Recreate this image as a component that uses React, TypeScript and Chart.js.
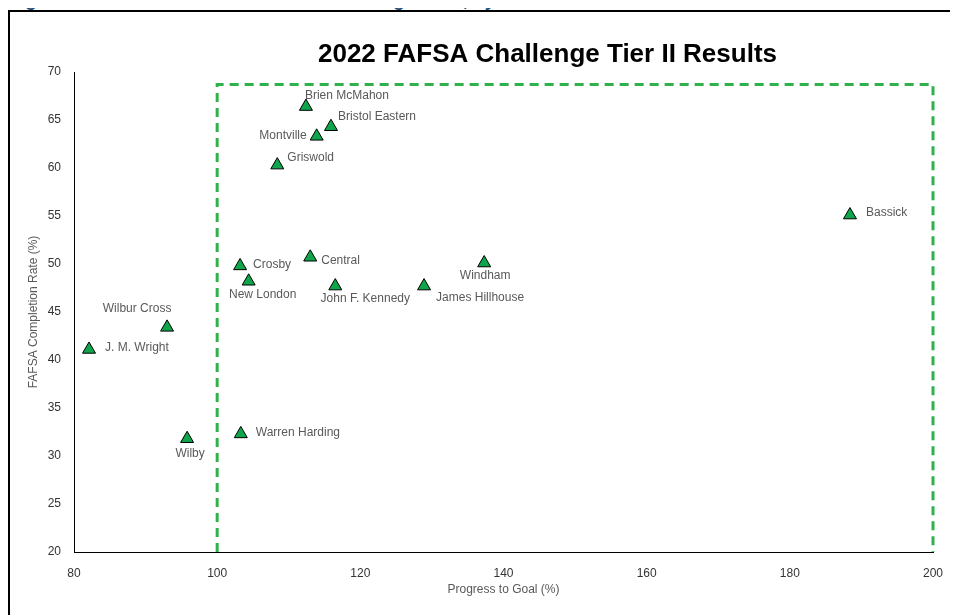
import React, { useEffect, useRef } from "react";
import { Chart, registerables } from "chart.js";

Chart.register(...registerables);

// ---- Data ----
const schools = [
  "Brien McMahon",
  "Bristol Eastern",
  "Montville",
  "Griswold",
  "Crosby",
  "New London",
  "Central",
  "John F. Kennedy",
  "James Hillhouse",
  "Windham",
  "Bassick",
  "Wilbur Cross",
  "J. M. Wright",
  "Wilby",
  "Warren Harding",
];
const progressToGoal = [112.4, 115.9, 113.9, 108.4, 103.2, 104.4, 113.0, 116.5, 128.9, 137.3, 188.4, 93.0, 82.1, 95.8, 103.3];
const completionRate = [66.4, 64.3, 63.3, 60.3, 49.8, 48.2, 50.7, 47.7, 47.7, 50.1, 55.1, 43.4, 41.1, 31.8, 32.3];

// Tier II target box (Progress >= 100)
const boxX = [100, 100, 200, 200];
const boxY = [20, 68.7, 68.7, 20];

const xMin = 80, xMax = 200, xStep = 20;
const yMin = 20, yMax = 70, yStep = 5;

const chartTitle = "2022 FAFSA Challenge Tier II Results";
const xTitle = "Progress to Goal (%)";
const yTitle = "FAFSA Completion Rate (%)";
const headerText = "Figure 4: Tier II Results Relative to Challenge Goal, by School";

// label placement: [dx, dy, align]
const labelPlacement: [number, number, CanvasTextAlign][] = [
  [-1, -9, "left"],
  [7, -8, "left"],
  [-10, 1, "right"],
  [10, -5, "left"],
  [13, 1, "left"],
  [14, 15, "center"],
  [11, 5, "left"],
  [30, 15, "center"],
  [12, 14, "left"],
  [1, 15, "center"],
  [16, 0, "left"],
  [-30, -17, "center"],
  [16, 0, "left"],
  [3, 17, "center"],
  [15, 1, "left"],
];

const FONT = "'Liberation Sans', Arial, Helvetica, sans-serif";

const pointLabelsPlugin = {
  id: "pointLabels",
  afterDatasetsDraw(chart: any) {
    const meta = chart.getDatasetMeta(1);
    const ctx = chart.ctx;
    ctx.save();
    ctx.font = `12px ${FONT}`;
    ctx.fillStyle = "#595959";
    ctx.textBaseline = "middle";
    meta.data.forEach((pt: any, i: number) => {
      const [dx, dy, align] = labelPlacement[i];
      ctx.textAlign = align;
      ctx.fillText(schools[i], pt.x + dx, pt.y + dy - 2);
    });
    ctx.restore();
  },
};

const titlePlugin = {
  id: "customTitle",
  afterDraw(chart: any) {
    const ctx = chart.ctx;
    const ca = chart.chartArea;
    ctx.save();
    ctx.font = `bold 26px ${FONT}`;
    ctx.fillStyle = "#000";
    ctx.textAlign = "center";
    ctx.textBaseline = "middle";
    ctx.fillText(chartTitle, (ca.left + ca.right) / 2 + 44, ca.top - 17);
    ctx.restore();
  },
};

export default function App() {
  const ref = useRef<HTMLCanvasElement | null>(null);

  useEffect(() => {
    document.documentElement.style.overflow = "hidden";
    if (!ref.current) return;
    const chart = new Chart(ref.current, {
      type: "scatter",
      data: {
        datasets: [
          {
            type: "line",
            label: "Tier II box",
            data: boxX.map((x, i) => ({ x, y: boxY[i] })),
            borderColor: "#2fb24c",
            borderWidth: 3,
            borderDash: [9, 6],
            pointRadius: 0,
            fill: false,
            tension: 0,
            clip: false as any,
            order: 0,
          },
          {
            label: "Schools",
            data: progressToGoal.map((x, i) => ({ x, y: completionRate[i] })),
            pointStyle: "triangle",
            pointRadius: 7.5,
            backgroundColor: "#0fa64b",
            borderColor: "#000",
            borderWidth: 1,
            order: 1,
          },
        ],
      },
      options: {
        responsive: false,
        animation: false,
        layout: { padding: { left: 0, right: 25, top: 60, bottom: 0 } },
        plugins: {
          legend: { display: false },
          title: { display: false },
          tooltip: { enabled: false },
        },
        scales: {
          x: {
            type: "linear",
            min: xMin,
            max: xMax,
            ticks: {
              stepSize: xStep,
              padding: 14,
              color: "#333",
              font: { family: FONT, size: 12 },
            },
            grid: { display: false, drawTicks: false },
            border: { display: true, color: "#000", width: 1 },
            title: {
              display: true,
              text: xTitle,
              color: "#595959",
              font: { family: FONT, size: 12 },
              padding: { top: 0, bottom: 18 },
            },
            afterFit: (s: any) => {
              s.height = 63;
            },
          },
          y: {
            type: "linear",
            min: yMin,
            max: yMax,
            ticks: {
              stepSize: yStep,
              padding: 13,
              color: "#333",
              font: { family: FONT, size: 12 },
            },
            grid: { display: false, drawTicks: false },
            border: { display: true, color: "#000", width: 1 },
            title: {
              display: true,
              text: yTitle,
              color: "#595959",
              font: { family: FONT, size: 12 },
              padding: { top: 16, bottom: 0 },
            },
            afterFit: (s: any) => {
              s.width = 64;
            },
          },
        },
      },
      plugins: [pointLabelsPlugin, titlePlugin],
    });
    return () => chart.destroy();
  }, []);

  return (
    <div style={{ position: "relative", width: 950, height: 607, overflow: "visible" }}>
      <div
        style={{
          position: "absolute",
          top: -20,
          left: 0,
          font: `bold 19px ${FONT}`,
          color: "#1f4e79",
          whiteSpace: "nowrap",
          lineHeight: "24px",
        }}
      >
        {headerText}
      </div>
      <div
        style={{
          position: "absolute",
          top: 2,
          left: 0,
          width: 950,
          height: 605,
          borderTop: "2px solid #000",
          borderLeft: "2px solid #000",
          boxSizing: "border-box",
          overflow: "hidden",
        }}
      >
        <canvas ref={ref} width={948} height={603} style={{ display: "block" }} />
      </div>
    </div>
  );
}
